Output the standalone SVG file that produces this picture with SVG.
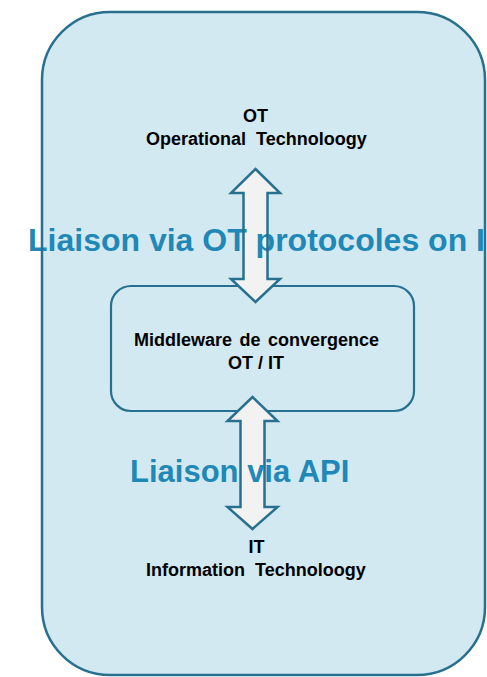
<svg xmlns="http://www.w3.org/2000/svg" width="487" height="677" viewBox="0 0 487 677">
<style>
.fill{fill:#d3e9f2;stroke:none}
.line{fill:none;stroke:#28708f;stroke-width:2.5}
.box{fill:#d3e9f2;stroke:#28708f;stroke-width:2.2}
.arr{fill:#f2f2f2;stroke:none}
.arrline{fill:none;stroke:#28708f;stroke-width:2.5;stroke-linejoin:miter}
.lbl{font-family:"Liberation Sans",Arial,sans-serif;font-weight:bold;font-size:18px;fill:#000}
.mid{text-anchor:middle}
.link{font-family:"Liberation Sans",Arial,sans-serif;font-weight:bold;fill:#1f88b7}
</style>
<defs>
<rect id="outerShape" x="42" y="12" width="443" height="663" rx="68" ry="68"/>
<polygon id="arrowTop" points="255.5,169 280,193 267.5,193 267.5,279 280,279 255.5,302 231,279 243.5,279 243.5,193 231,193"/>
<polygon id="arrowBottom" points="252.5,397 277.5,421 264.5,421 264.5,507 277.5,507 252.5,529 227.5,507 240.5,507 240.5,421 227.5,421"/>
</defs>
<g id="outer">
<use href="#outerShape" class="fill"/>
</g>
<g id="ot">
<text class="lbl mid" x="255.5" y="122">OT</text>
<text class="lbl" x="146" y="145" word-spacing="5">Operational Technoloogy</text>
</g>
<g id="middleware">
<rect class="box" x="111" y="286" width="303" height="125" rx="20" ry="20"/>
<text class="lbl" x="134" y="346" word-spacing="2.5">Middleware de convergence</text>
<text class="lbl mid" x="256" y="369">OT / IT</text>
</g>
<g id="it">
<text class="lbl mid" x="256.5" y="553">IT</text>
<text class="lbl" x="146" y="576" word-spacing="5">Information Technoloogy</text>
</g>
<g id="connectors">
<use href="#arrowTop" class="arr"/>
<use href="#arrowBottom" class="arr"/>
</g>
<g id="labels">
<text class="link" x="28" y="251" font-size="32">Liaison via OT protocoles on I</text>
<text class="link" x="130" y="482" font-size="31">Liaison via API</text>
</g>
<g id="connector-outlines">
<use href="#arrowTop" class="arrline"/>
<use href="#arrowBottom" class="arrline"/>
</g>
<g id="outer-outline">
<use href="#outerShape" class="line"/>
</g>
</svg>
